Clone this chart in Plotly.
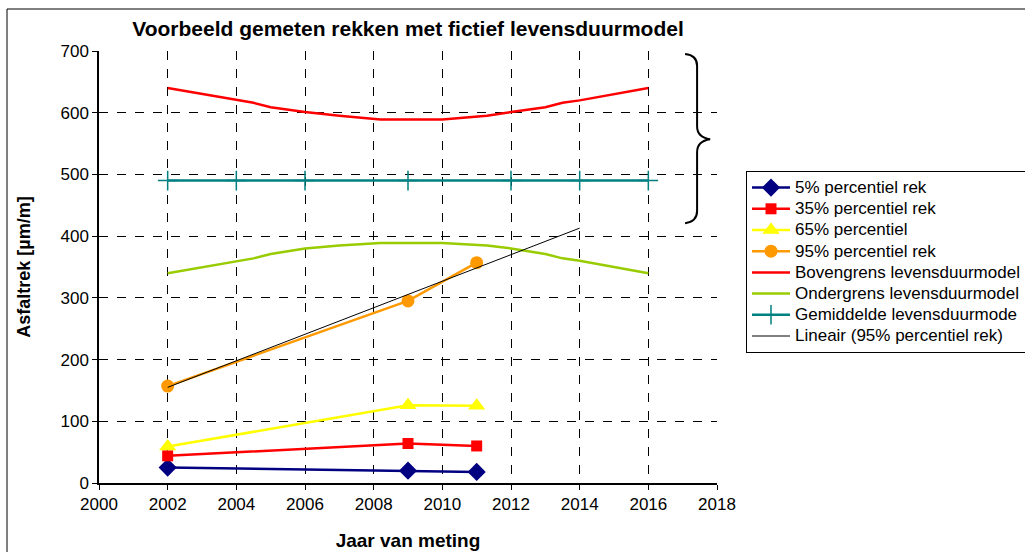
import plotly.graph_objects as go

# meetjaren en percentielen van de gemeten rekken
jaren = [2002, 2009, 2011]
p5 = [25, 20, 18]
p35 = [44, 64, 60]
p65 = [59, 126, 125]
p95 = [157, 295, 357]

# fictief levensduurmodel
model_jaren = [2002, 2004, 2004.5, 2005, 2006, 2007, 2008.2, 2010, 2011.3, 2012, 2013, 2013.5, 2014, 2016]
bovengrens = [640, 620, 616, 609, 601, 595, 589, 589, 595, 601, 609, 616, 620, 640]
ondergrens = [340, 360, 364, 371, 380, 385, 389, 389, 385, 380, 371, 364, 360, 340]
gem_jaren = [2002, 2004, 2006, 2009, 2012, 2014, 2016]
gemiddelde = [490, 490, 490, 490, 490, 490, 490]

# lineaire trendlijn door 95% percentiel
trend_jaren = [2002, 2014]
trend = [155, 413]

FONT = "Liberation Sans, Arial, sans-serif"


def naam(tekst):
    # grotere tekst in de legenda, met de regelhoogte van het kleinere legendafont
    return '<span style="font-size:17px">' + tekst + '</span>'


fig = go.Figure()

fig.add_trace(go.Scatter(x=jaren, y=p5, name=naam("5% percentiel rek"), mode="lines+markers",
                         line=dict(color="#000080", width=2.5),
                         marker=dict(symbol="diamond", size=14, color="#000080")))
fig.add_trace(go.Scatter(x=jaren, y=p35, name=naam("35% percentiel rek"), mode="lines+markers",
                         line=dict(color="#FF0000", width=2.5),
                         marker=dict(symbol="square", size=11, color="#FF0000")))
fig.add_trace(go.Scatter(x=jaren, y=p65, name=naam("65% percentiel"), mode="lines+markers",
                         line=dict(color="#FFFF00", width=2.5),
                         marker=dict(symbol="triangle-up", size=15, color="#FFFF00")))
fig.add_trace(go.Scatter(x=jaren, y=p95, name=naam("95% percentiel rek"), mode="lines+markers",
                         line=dict(color="#FF9900", width=2.5),
                         marker=dict(symbol="circle", size=13, color="#FF9900")))
fig.add_trace(go.Scatter(x=model_jaren, y=bovengrens, name=naam("Bovengrens levensduurmodel"), mode="lines",
                         line=dict(color="#FF0000", width=2.5)))
fig.add_trace(go.Scatter(x=model_jaren, y=ondergrens, name=naam("Ondergrens levensduurmodel"), mode="lines",
                         line=dict(color="#99CC00", width=2.5)))
fig.add_trace(go.Scatter(x=gem_jaren, y=gemiddelde, name=naam("Gemiddelde levensduurmode"), mode="lines+markers",
                         line=dict(color="#008080", width=2.5),
                         marker=dict(symbol="cross-thin", size=14, color="#008080",
                                     line=dict(color="#008080", width=1.5))))
fig.add_trace(go.Scatter(x=trend_jaren, y=trend, name=naam("Lineair (95% percentiel rek)"), mode="lines",
                         line=dict(color="black", width=1)))

# accolade bij het levensduurmodel
brace = ("M 2017.07,695 Q 2017.42,693 2017.42,676 L 2017.42,578 "
         "Q 2017.42,560 2017.80,557 Q 2017.42,554 2017.42,536 L 2017.42,441 "
         "Q 2017.42,423 2017.07,421")

fig.update_layout(
    width=1025, height=552,
    margin=dict(l=99, r=308, t=51, b=69, autoexpand=False),
    paper_bgcolor="white", plot_bgcolor="white",
    font=dict(family=FONT, size=17, color="black"),
    title=dict(text="<b>Voorbeeld gemeten rekken met fictief levensduurmodel</b>",
               x=(408 / 1025), xanchor="center", y=1 - 29 / 552, yanchor="middle",
               font=dict(size=21)),
    showlegend=True,
    legend=dict(x=(746 - 99) / 618, y=(483 - 171) / 432, xanchor="left", yanchor="top",
                bordercolor="black", borderwidth=1, bgcolor="white",
                font=dict(size=14), tracegroupgap=0, itemwidth=38),
    shapes=[
        dict(type="path", path=brace, xref="x", yref="y",
             line=dict(color="black", width=2)),
        dict(type="rect", xref="paper", yref="paper",
             x0=(7 - 99) / 618, x1=1.6, y0=-0.3, y1=(483 - 9) / 432,
             line=dict(color="black", width=1), layer="below"),
    ],
    annotations=[
        dict(text="Fictief levensduurmodel", x=2018.25, y=553, xref="x", yref="y",
             xanchor="left", yanchor="middle", showarrow=False,
             font=dict(size=21)),
    ],
)

fig.update_xaxes(range=[2000, 2018], dtick=2, tick0=2000, automargin=False,
                 showline=True, linecolor="black", linewidth=1.5,
                 ticks="outside", ticklen=5, tickcolor="black",
                 showgrid=True, gridcolor="black", griddash="dash", gridwidth=1,
                 zeroline=False,
                 title=dict(text="<b>Jaar van meting</b>", font=dict(size=19), standoff=21))
fig.update_yaxes(range=[0, 700], dtick=100, automargin=False,
                 showline=True, linecolor="black", linewidth=1.5,
                 ticks="outside", ticklen=5, tickcolor="black",
                 showgrid=True, gridcolor="black", griddash="dash", gridwidth=1,
                 zeroline=False,
                 title=dict(text="<b>Asfaltrek [µm/m]</b>", font=dict(size=18), standoff=25))

# geen standaard paginamarge, zodat de figuur precies in het venster valt
fig.write_html("out.html", config={"displayModeBar": False},
               post_script="document.body.style.margin = '0';")
